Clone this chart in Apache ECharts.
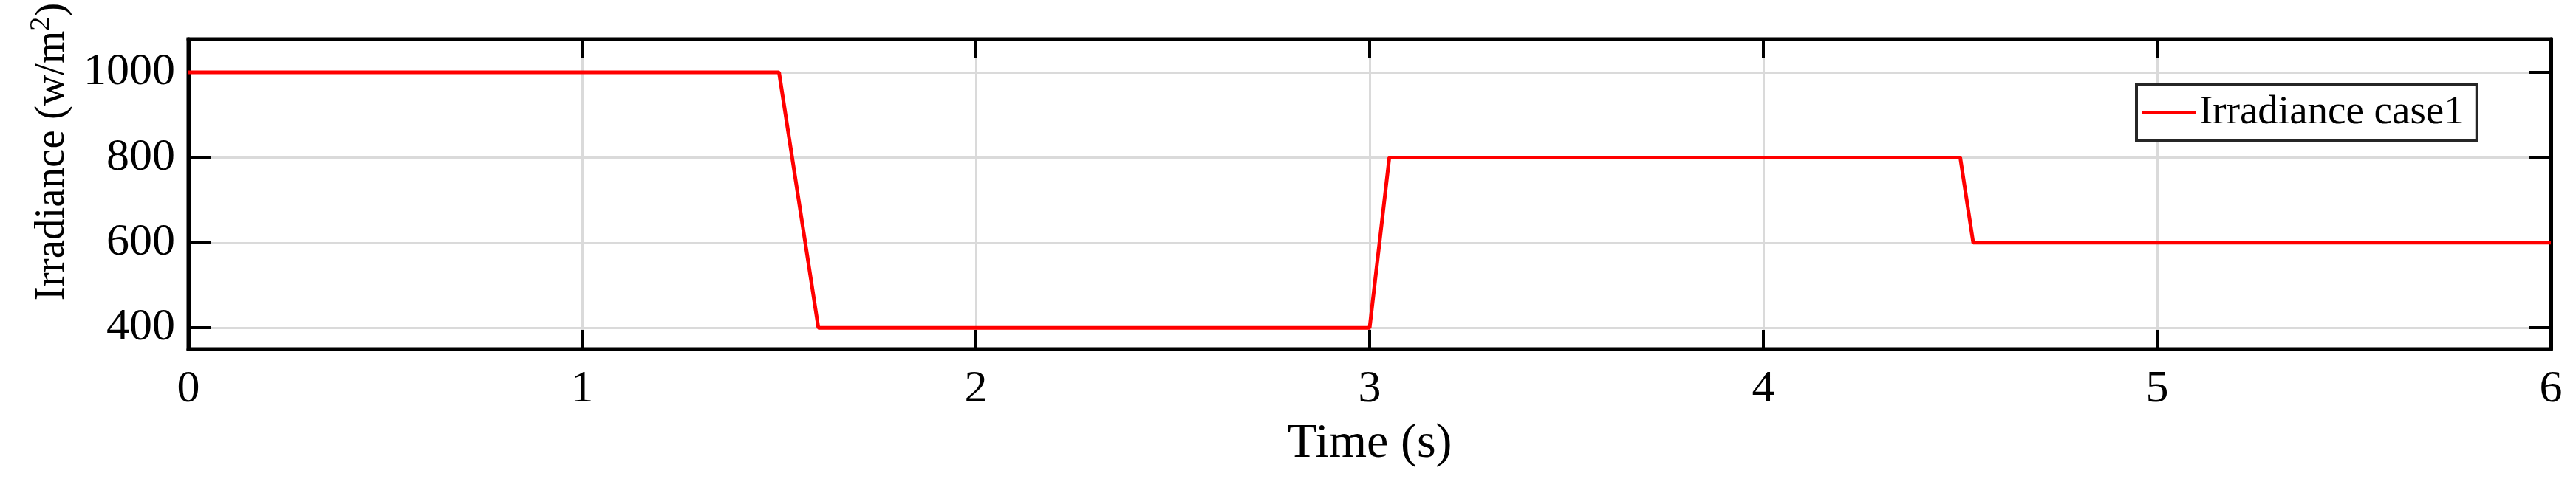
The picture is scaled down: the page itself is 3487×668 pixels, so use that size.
<!DOCTYPE html>
<html>
<head>
<meta charset="utf-8">
<script src="https://cdn.jsdelivr.net/npm/echarts@6/dist/echarts.min.js"></script>
<style>
  html, body { margin: 0; padding: 0; background: #fff; }
  #main { width: 3487px; height: 668px; }
</style>
</head>
<body>
<div id="main"></div>
<script>
// time (s) and irradiance (w/m2) breakpoints
const timeData = [0, 1.5, 1.6, 3.0, 3.05, 4.5, 4.533, 6];
const irradiance = [1000, 1000, 400, 400, 800, 800, 600, 600];
const seriesName = 'Irradiance case1';

var points = timeData.map(function (t, i) { return [t, irradiance[i]]; });

var font = 'Liberation Serif';
var chart = echarts.init(document.getElementById('main'));

// shared look of the four box axes
var axisLine = { show: true, onZero: false, lineStyle: { color: '#000', width: 5 } };
var tick = function (len) {
    return { show: true, inside: true, length: len, lineStyle: { color: '#000', width: 4 } };
};

var option = {
    backgroundColor: '#fff',
    animation: false,
    grid: {
        left: 255, right: 34, top: 53, bottom: 195,
        outerBoundsMode: 'none',
        show: true, borderColor: '#000', borderWidth: 5
    },
    legend: {
        data: [{ name: seriesName, icon: 'rect' }],
        left: 2892, top: 115,
        padding: [10, 17, 10, 8],
        backgroundColor: '#fff',
        borderColor: '#262626', borderWidth: 4,
        itemWidth: 72, itemHeight: 5,
        itemStyle: { color: '#ff0000' },
        textStyle: { fontFamily: font, fontSize: 55, color: '#000' }
    },
    xAxis: [{
        type: 'value', min: 0, max: 6, interval: 1,
        name: 'Time (s)', nameLocation: 'middle', nameGap: 96,
        nameTextStyle: { fontFamily: font, fontSize: 66, color: '#000' },
        axisLine: axisLine,
        axisTick: tick(26),
        axisLabel: { margin: 24, fontFamily: font, fontSize: 62, color: '#000' },
        splitLine: { show: true, lineStyle: { color: '#dadada', width: 3 } }
    }, {
        type: 'value', min: 0, max: 6, interval: 1, position: 'top',
        axisLine: axisLine,
        axisTick: tick(26),
        axisLabel: { show: false },
        splitLine: { show: false }
    }],
    yAxis: [{
        type: 'value', min: 350, max: 1078, splitNumber: 4,
        name: 'Irradiance (w/m{sup|2})', nameLocation: 'middle', nameGap: 150,
        nameTextStyle: {
            fontFamily: font, fontSize: 57, color: '#000',
            padding: [0, 0, 0, 115],
            rich: { sup: { fontFamily: font, fontSize: 38, color: '#000', padding: [0, 0, 30, 0] } }
        },
        axisLine: axisLine,
        axisTick: tick(30),
        axisLabel: {
            margin: 18, fontFamily: font, fontSize: 62, color: '#000',
            formatter: function (v) { return v % 200 === 0 ? String(v) : ''; }
        },
        splitLine: { show: true, lineStyle: { color: '#dadada', width: 3 } }
    }, {
        type: 'value', min: 350, max: 1078, splitNumber: 4, position: 'right',
        axisLine: axisLine,
        axisTick: tick(30),
        axisLabel: { show: false },
        splitLine: { show: false }
    }],
    series: [{
        name: seriesName,
        type: 'line',
        data: points,
        symbol: 'none',
        lineStyle: { color: '#ff0000', width: 5 },
        itemStyle: { color: '#ff0000' }
    }]
};

chart.setOption(option);
</script>
</body>
</html>
